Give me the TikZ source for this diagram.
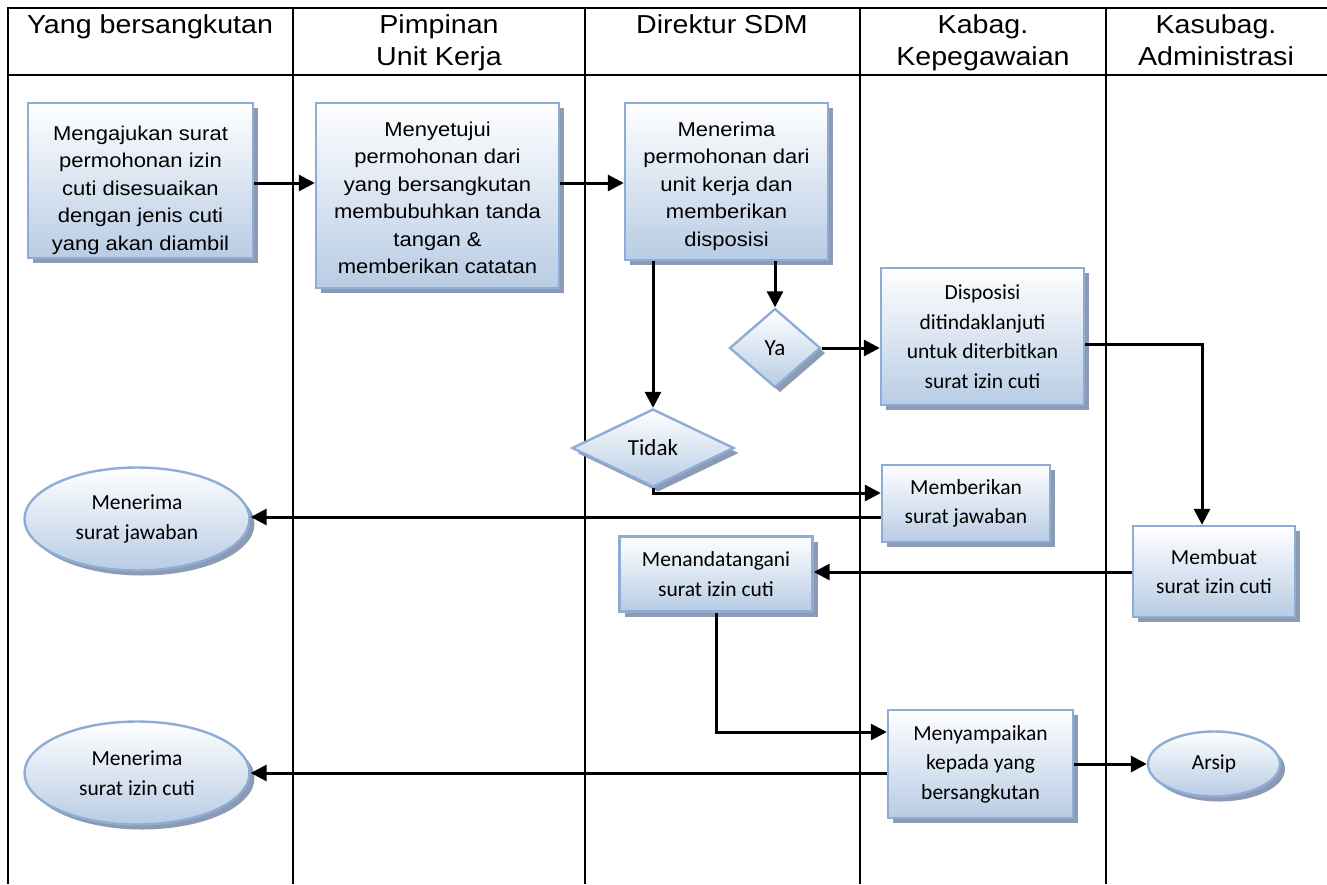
\documentclass[tikz,border=0pt]{standalone}
\usepackage{fontspec}
\setmainfont{Liberation Sans}
\newfontfamily\arialf[FakeStretch=1.1]{Liberation Sans}
\newfontfamily\calf{Carlito}
\usetikzlibrary{arrows.meta,shapes.geometric,shadows}
\definecolor{bord}{RGB}{141,173,214}
\definecolor{fillb}{RGB}{184,204,228}
\definecolor{shad}{RGB}{140,155,178}
\begin{document}
\begin{tikzpicture}[x=1pt,y=-1pt,
  frame/.style={line width=2pt},
  arr/.style={line width=3pt,-{Triangle[length=16pt,width=16pt]}},
  flow/.style={draw=bord,line width=2.4pt,top color=white,bottom color=fillb,
    drop shadow={shadow xshift=5pt,shadow yshift=-5pt,fill=shad,opacity=1},
    inner sep=0pt,align=center},
  abox/.style={flow,rectangle,font=\arialf\fontsize{20}{27.5}\selectfont},
  cbox/.style={flow,rectangle,font=\calf\fontsize{21.5}{29.5}\selectfont},
  cell/.style={flow,ellipse,font=\calf\fontsize{21.5}{30}\selectfont},
  cdia/.style={flow,diamond,font=\calf\fontsize{23}{26}\selectfont},
  hdr/.style={anchor=north,inner sep=0pt,align=center,font=\arialf\fontsize{26}{32}\selectfont}]
\useasboundingbox (0,0) rectangle (1327,884);
% frame
\draw[frame] (1327,8) -- (8,8) -- (8,884);
\draw[frame] (8,75) -- (1327,75);
\foreach \x in {293,585,860,1106} \draw[frame] (\x,8) -- (\x,884);
% headers
\node[hdr] (h1) at (150,14) {Yang bersangkutan};
\node[hdr] (h2) at (439,14) {Pimpinan\\Unit Kerja};
\node[hdr] (h3) at (722,14) {Direktur SDM};
\node[hdr] (h4) at (983,14) {Kabag.\\Kepegawaian};
\node[hdr] (h5) at (1216,14) {Kasubag.\\Administrasi};
% nodes
\node[abox,minimum width=225pt,minimum height=155pt] (b1) at (140.5,180.5)
  {\raisebox{-9pt}[\height][\depth]{\begin{tabular}{@{}c@{}}Mengajukan surat\\permohonan izin\\cuti disesuaikan\\dengan jenis cuti\\yang akan diambil\end{tabular}}};
\node[abox,minimum width=243pt,minimum height=185pt] (b2) at (437.5,195.5)
  {\raisebox{-4pt}[\height][\depth]{\begin{tabular}{@{}c@{}}Menyetujui\\permohonan dari\\yang bersangkutan\\membubuhkan tanda\\tangan \&\\memberikan catatan\end{tabular}}};
\node[abox,minimum width=203pt,minimum height=157pt] (b3) at (726.5,181.5)
  {\raisebox{-4pt}[\height][\depth]{\begin{tabular}{@{}c@{}}Menerima\\permohonan dari\\unit kerja dan\\memberikan\\disposisi\end{tabular}}};
\node[cdia,minimum width=91pt,minimum height=79pt] (ya) at (775,348) {Ya};
\node[cdia,minimum width=162pt,minimum height=78pt] (td) at (653,448) {Tidak};
\node[cbox,minimum width=203pt,minimum height=137pt] (dp) at (982.5,336.5)
  {Disposisi\\ditindaklanjuti\\untuk diterbitkan\\surat izin cuti};
\node[cbox,minimum width=168pt,minimum height=77pt] (mj) at (966,503.5)
  {Memberikan\\surat jawaban};
\node[cell,minimum width=225pt,minimum height=103pt] (e1) at (137,519)
  {Menerima\\surat jawaban};
\node[cell,minimum width=225pt,minimum height=103pt] (e2) at (137,773)
  {Menerima\\surat izin cuti};
\node[cbox,minimum width=193pt,minimum height=75pt] (md) at (716,574)
  {Menandatangani\\surat izin cuti};
\node[cbox,minimum width=162pt,minimum height=91pt] (mb) at (1214,571.5)
  {Membuat\\surat izin cuti};
\node[cbox,minimum width=185pt,minimum height=108pt] (ms) at (980.5,764)
  {Menyampaikan\\kepada yang\\bersangkutan};
\node[cell,minimum width=132pt,minimum height=65pt] (ar) at (1214,764) {Arsip};
% connectors
\coordinate (y183) at (0,183);
\draw[arr] (b1.east |- y183) -- (b2.west |- y183);
\draw[arr] (b2.east |- y183) -- (b3.west |- y183);
\draw[arr] (b3.south -| ya.north) -- (ya.north);
\draw[arr] (b3.south -| td.north) -- (td.north);
\draw[arr] (ya.east) -- (dp.west |- ya.east);
\coordinate (c1) at (1202,344);
\draw[arr] (dp.east |- c1) -- (c1) -- (c1 |- mb.north);
\coordinate (c2) at (653,493);
\draw[arr] (td.south) -- (c2) -- (c2 -| mj.west);
\coordinate (y517) at (0,517);
\draw[arr] (mj.west |- y517) -- (e1.east |- y517);
\coordinate (y572) at (0,572);
\draw[arr] (mb.west |- y572) -- (md.east |- y572);
\coordinate (c3) at (716,732);
\draw[arr] (md.south) -- (c3) -- (c3 -| ms.west);
\coordinate (y773) at (0,773);
\draw[arr] (ms.west |- y773) -- (e2.east |- y773);
\draw[arr] (ms.east) -- (ar.west);
\end{tikzpicture}
\end{document}
